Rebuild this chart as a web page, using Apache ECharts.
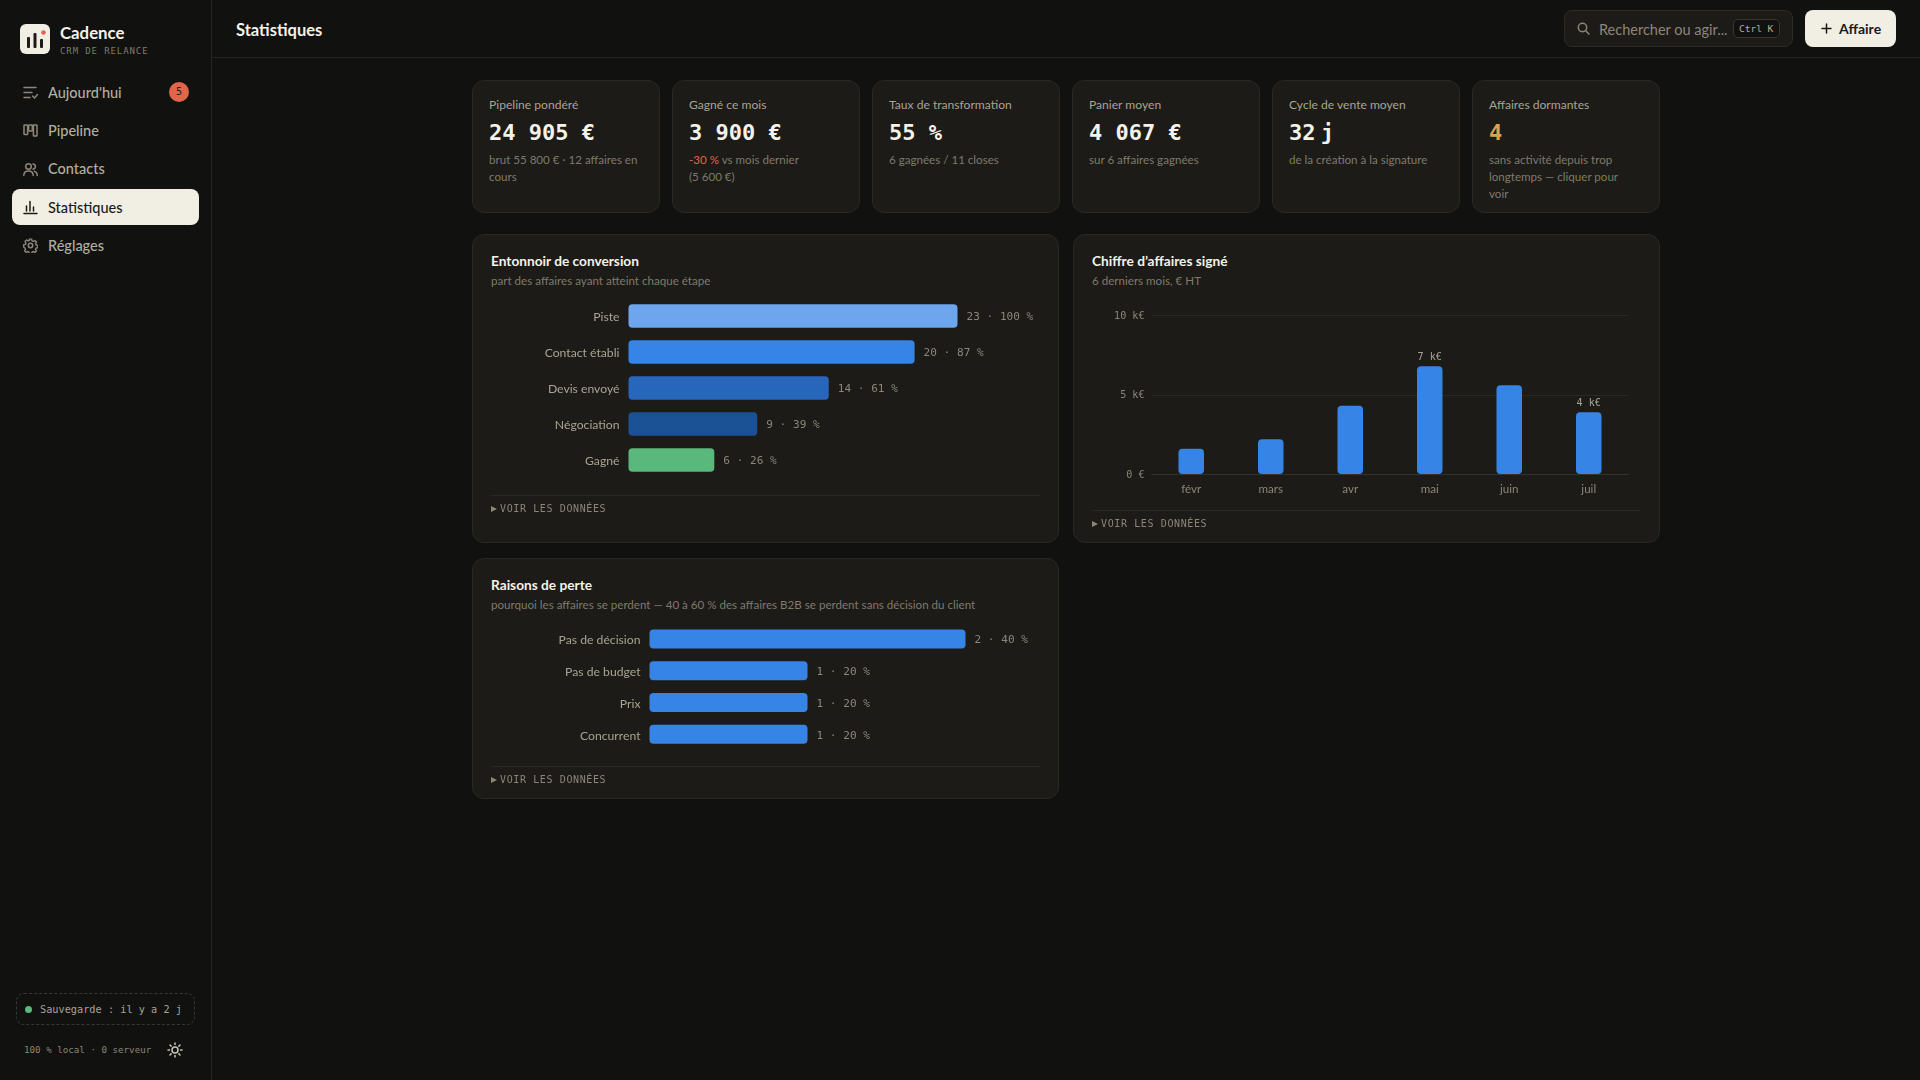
<!DOCTYPE html>
<html lang="fr">
<head>
<meta charset="utf-8">
<title>Cadence - Statistiques</title>
<script src="https://cdn.jsdelivr.net/npm/echarts@6/dist/echarts.min.js"></script>
<style>
  html, body { margin: 0; padding: 0; width: 1920px; height: 1080px; overflow: hidden; background: #111110; font-family: Lato, sans-serif; color: #f1eee4; }
  .t { position: absolute; white-space: nowrap; line-height: 1; transform: translateY(-50%); }
  .mono { font-family: "DejaVu Sans Mono", monospace; }
  .side-line { position: absolute; left: 211px; top: 0; width: 1px; height: 1080px; background: #26241e; }
  .head-line { position: absolute; left: 211px; top: 57px; width: 1709px; height: 1px; background: #26241e; }
  .pill { position: absolute; left: 12px; top: 189px; width: 187px; height: 36px; border-radius: 8px; background: #f1eee4; }
  .nav { left: 48px; font-size: 14.5px; font-weight: 500; color: #b3ae9f; }
  .icon { position: absolute; fill: none; stroke: #8b8678; stroke-width: 1.5; stroke-linecap: round; stroke-linejoin: round; }
  .card { position: absolute; box-sizing: border-box; background: #1c1b17; border: 1px solid #2a2822; border-radius: 12px; }
  .kpi { top: 80px; width: 188px; height: 133px; }
  .kpi .label { position: absolute; left: 16px; top: 15px; font-size: 12.1px; line-height: 18px; color: #a8a394; white-space: nowrap; }
  .kpi .value { position: absolute; left: 16px; top: 38px; font-family: "DejaVu Sans Mono", monospace; font-weight: 700; font-size: 22px; line-height: 28px; color: #f5f2e9; white-space: nowrap; }
  .kpi .sub { position: absolute; left: 16px; top: 70px; width: 155px; font-size: 11.6px; line-height: 17px; color: #7f7a6c; }
  .panel-title { left: 18px; font-size: 13.7px; font-weight: 700; color: #f5f2e9; }
  .panel-sub { left: 18px; font-size: 11.6px; color: #7f7a6c; }
  .rule { position: absolute; left: 18px; height: 1px; width: 549px; background: #2a2822; }
  .toggle { left: 27px; font-family: "DejaVu Sans Mono", monospace; font-size: 10px; letter-spacing: 0.62px; color: #8b8678; }
  .tri { position: absolute; left: 18px; width: 0; height: 0; border-left: 6px solid #8b8678; border-top: 3.5px solid transparent; border-bottom: 3.5px solid transparent; }
  .chart { position: absolute; left: 0; top: 0; width: 100%; height: 100%; }
</style>
</head>
<body>
<div class="side-line"></div>
<div class="head-line"></div>

<!-- barre laterale -->
<div style="position:absolute;left:20px;top:24px;width:30px;height:30px;border-radius:6px;background:#f1eee4"></div>
<svg style="position:absolute;left:20px;top:24px" width="30" height="30">
  <rect x="7" y="13" width="3" height="11" rx="1" fill="#1c1b17"/>
  <rect x="13.5" y="9" width="3" height="15" rx="1" fill="#1c1b17"/>
  <rect x="20" y="15" width="3" height="9" rx="1" fill="#1c1b17"/>
  <circle cx="23.5" cy="8.5" r="2.3" fill="#e0654a"/>
</svg>
<div class="t" style="left:60px;top:32.5px;font-size:16.8px;font-weight:700;color:#f5f2e9">Cadence</div>
<div class="t mono" style="left:60px;top:51px;font-size:9px;letter-spacing:.9px;color:#7f7a6c">CRM DE RELANCE</div>

<div class="pill"></div>
<div class="t nav" style="top:92.5px">Aujourd'hui</div>
<div class="t nav" style="top:131px">Pipeline</div>
<div class="t nav" style="top:169px">Contacts</div>
<div class="t nav" style="top:207.5px;color:#1c1b17">Statistiques</div>
<div class="t nav" style="top:246px">Réglages</div>
<svg class="icon" style="left:23px;top:85px" width="15" height="15" viewBox="0 0 15 15"><path d="M1 2.5h12M1 7.5h8M1 12.5h6M9.5 11l2 2 3-3.5"/></svg>
<svg class="icon" style="left:23px;top:123px" width="15" height="15" viewBox="0 0 15 15"><rect x="1" y="2" width="3.6" height="9.5" rx=".6"/><rect x="5.7" y="2" width="3.6" height="6" rx=".6"/><rect x="10.4" y="2" width="3.6" height="11" rx=".6"/></svg>
<svg class="icon" style="left:23px;top:162px" width="15" height="15" viewBox="0 0 15 15"><circle cx="5.5" cy="4.5" r="2.8"/><path d="M.8 13.5c0-3 2-4.6 4.7-4.6s4.700 1.600 4.700 4.600M10 2c1.500.2 2.400 1.300 2.400 2.600S11.500 7 10 7.200M11.500 9.200c1.700.5 2.800 2 2.800 4.300"/></svg>
<svg class="icon" style="left:23px;top:200px;stroke:#1c1b17" width="15" height="15" viewBox="0 0 15 15"><path d="M1 13.500h13M3.500 11V6M7 11V1.500M10.500 11V7"/></svg>
<svg class="icon" style="left:23px;top:238px" width="15" height="15" viewBox="0 0 15 15"><circle cx="7.500" cy="7.500" r="2.200"/><path d="M6.300 1h2.400l.4 1.800 1.400.6 1.600-1 1.700 1.700-1 1.600.6 1.400 1.800.4v2.400l-1.800.4-.6 1.400 1 1.600-1.700 1.700-1.600-1-1.400.6-.4 1.800H6.300l-.4-1.800-1.400-.6-1.600 1-1.700-1.700 1-1.600-.6-1.400L.3 9.300V6.900l1.800-.4.6-1.400-1-1.600 1.700-1.700 1.600 1 1.400-.6z" transform="translate(.4 .2) scale(.95)"/></svg>
<div style="position:absolute;left:169px;top:82px;width:20px;height:20px;border-radius:50%;background:#e0654a"></div>
<div class="t mono" style="left:176px;top:92px;font-size:10px;color:#1c1b17">5</div>

<div style="position:absolute;box-sizing:border-box;left:16px;top:993px;width:179px;height:32px;border:1px dashed #3a362c;border-radius:8px"></div>
<div style="position:absolute;left:25px;top:1006px;width:7px;height:7px;border-radius:50%;background:#5ab87c"></div>
<div class="t mono" style="left:40px;top:1009px;font-size:10.25px;color:#a8a394">Sauvegarde : il y a 2 j</div>
<div class="t mono" style="left:24px;top:1050px;font-size:9.200px;color:#8b8678">100 % local · 0 serveur</div>
<svg class="icon" style="left:167px;top:1042px;stroke:#c9c4b5" width="16" height="16" viewBox="0 0 16 16"><circle cx="8" cy="8" r="3"/><path d="M8 1v1.500M8 13.500V15M1 8h1.500M13.500 8H15M3 3l1.100 1.100M11.900 11.900L13 13M3 13l1.100-1.100M11.900 4.100L13 3"/></svg>

<!-- en-tete -->
<div class="t" style="left:236px;top:29.5px;font-size:16.5px;font-weight:700;color:#f5f2e9">Statistiques</div>
<div style="position:absolute;box-sizing:border-box;left:1564px;top:10px;width:229px;height:37px;border:1px solid #2f2c25;border-radius:8px;background:#1c1b17"></div>
<svg class="icon" style="left:1577px;top:22px" width="13" height="13" viewBox="0 0 13 13"><circle cx="5.500" cy="5.500" r="4.200"/><path d="M9 9l3 3"/></svg>
<div class="t" style="left:1599px;top:29.5px;font-size:14.5px;color:#8b8678">Rechercher ou agir...</div>
<div style="position:absolute;box-sizing:border-box;left:1733px;top:19px;width:47px;height:19px;border:1px solid #3a362c;border-radius:5px;background:#111110"></div>
<div class="t mono" style="left:1739px;top:28.500px;font-size:9.500px;color:#b3ae9f">Ctrl K</div>
<div style="position:absolute;left:1805px;top:10px;width:91px;height:37px;border-radius:8px;background:#f1eee4"></div>
<svg class="icon" style="left:1821px;top:23px;stroke:#1c1b17" width="11" height="11" viewBox="0 0 11 11"><path d="M5.500 1v9M1 5.500h9"/></svg>
<div class="t" style="left:1839px;top:29px;font-size:14px;font-weight:700;color:#1c1b17">Affaire</div>

<!-- indicateurs, remplis depuis les tableaux -->
<div id="kpis"></div>

<!-- panneaux -->
<div class="card" style="left:472px;top:234px;width:587px;height:309px">
  <div class="t panel-title" style="top:25.5px">Entonnoir de conversion</div>
  <div class="t panel-sub" style="top:46px">part des affaires ayant atteint chaque étape</div>
  <div id="funnelChart" class="chart"></div>
  <div class="rule" style="top:260px"></div>
  <div class="tri" style="top:270.5px"></div>
  <div class="t toggle" style="top:274px">VOIR LES DONNÉES</div>
</div>
<div class="card" style="left:1073px;top:234px;width:587px;height:309px">
  <div class="t panel-title" style="top:25.5px">Chiffre d’affaires signé</div>
  <div class="t panel-sub" style="top:46px">6 derniers mois, € HT</div>
  <div id="revenueChart" class="chart"></div>
  <div class="rule" style="top:275px"></div>
  <div class="tri" style="top:285.500px"></div>
  <div class="t toggle" style="top:289px">VOIR LES DONNÉES</div>
</div>
<div class="card" style="left:472px;top:558px;width:587px;height:241px">
  <div class="t panel-title" style="top:25.5px">Raisons de perte</div>
  <div class="t panel-sub" style="top:46px">pourquoi les affaires se perdent — 40 à 60 % des affaires B2B se perdent sans décision du client</div>
  <div id="lossChart" class="chart"></div>
  <div class="rule" style="top:207px"></div>
  <div class="tri" style="top:217.500px"></div>
  <div class="t toggle" style="top:221px">VOIR LES DONNÉES</div>
</div>

<script>
const kpiLabels = ['Pipeline pondéré', 'Gagné ce mois', 'Taux de transformation', 'Panier moyen', 'Cycle de vente moyen', 'Affaires dormantes']
const kpiValues = ['24 905 €', '3 900 €', '55 %', '4 067 €', '32 j', '4']
const kpiSubs = [
    'brut 55\u202f800\u00a0€ · 12 affaires en cours',
    '<span style="color:#e0654a">-30 %</span> vs mois dernier (5\u202f600\u00a0€)',
    '6 gagnées / 11 closes',
    'sur 6 affaires gagnées',
    'de la création à la signature',
    'sans activité depuis trop longtemps — cliquer pour<br>voir'
]

const funnelStages = ['Piste', 'Contact établi', 'Devis envoyé', 'Négociation', 'Gagné']
const funnelCounts = [23, 20, 14, 9, 6]
const funnelPercents = [100, 87, 61, 39, 26]
const funnelColors = ['#6ea6ee', '#3685e6', '#2766bb', '#1b5295', '#5ab87c']

const revenueMonths = ['févr', 'mars', 'avr', 'mai', 'juin', 'juil']
const revenueValues = [1600, 2200, 4300, 6800, 5600, 3900]
const revenueBarLabels = ['', '', '', '7 k€', '', '4 k€']
const revenueTicks = { 0: '0 €', 5000: '5 k€', 10000: '10 k€' }

const lossReasons = ['Pas de décision', 'Pas de budget', 'Prix', 'Concurrent']
const lossCounts = [2, 1, 1, 1]
const lossPercents = [40, 20, 20, 20]

const MONO = '"DejaVu Sans Mono", monospace'
const SANS = 'Lato, sans-serif'

// cartes du haut
const kpiBox = document.getElementById('kpis')
kpiLabels.forEach((label, i) => {
    const card = document.createElement('div')
    card.className = 'card kpi'
    card.style.left = (472 + i * 200) + 'px'
    let valueStyle = ''
    if (i === 4) valueStyle = 'word-spacing:-8px'
    if (i === 5) valueStyle = 'color:#d9a54a'
    card.innerHTML = '<div class="label">' + label + '</div>'
        + '<div class="value" style="' + valueStyle + '">' + kpiValues[i] + '</div>'
        + '<div class="sub">' + kpiSubs[i] + '</div>'
    kpiBox.appendChild(card)
})

function hBarOption(cats, counts, percents, colors, maxValue, grid, barWidth) {
    return {
        animation: false,
        grid: grid,
        xAxis: { type: 'value', min: 0, max: maxValue, show: false },
        yAxis: {
            type: 'category',
            inverse: true,
            data: cats,
            axisLine: { show: false },
            axisTick: { show: false },
            axisLabel: {
                margin: 9,
                formatter: v => '{a|' + v + '}',
                rich: { a: { color: '#a8a394', fontSize: 12.2, fontFamily: SANS, padding: [3, 0, 0, 0] } }
            }
        },
        series: [{
            type: 'bar',
            barWidth: barWidth,
            data: counts.map((v, i) => ({ value: v, itemStyle: { color: colors[i % colors.length], borderRadius: 4 } })),
            label: {
                show: true,
                position: 'right',
                distance: 9,
                offset: [0, 1.5],
                color: '#8b8678',
                fontSize: 11.1,
                fontFamily: MONO,
                formatter: p => counts[p.dataIndex] + ' · ' + percents[p.dataIndex] + ' %'
            }
        }]
    }
}

echarts.init(document.getElementById('funnelChart')).setOption(
    hBarOption(funnelStages, funnelCounts, funnelPercents, funnelColors, 23,
        { left: 155.5, top: 63, width: 329, height: 180 }, 23.5))

echarts.init(document.getElementById('lossChart')).setOption(
    hBarOption(lossReasons, lossCounts, lossPercents, ['#3685e6'], 2,
        { left: 176.5, top: 64, width: 316, height: 127 }, 19))

echarts.init(document.getElementById('revenueChart')).setOption({
    animation: false,
    grid: { left: 77.5, top: 80.5, width: 477, height: 158.5 },
    xAxis: {
        type: 'category',
        data: revenueMonths,
        axisLine: { lineStyle: { color: '#35322a' } },
        axisTick: { show: false },
        axisLabel: { margin: 9, color: '#8b8678', fontSize: 11.6, fontFamily: SANS }
    },
    yAxis: {
        type: 'value',
        min: 0,
        max: 10000,
        interval: 5000,
        axisLine: { show: false },
        axisTick: { show: false },
        axisLabel: {
            margin: 7,
            formatter: v => '{a|' + revenueTicks[v] + '}',
            rich: { a: { color: '#8b8678', fontSize: 10.1, fontFamily: MONO, padding: [2, 0, 0, 0] } }
        },
        splitLine: { lineStyle: { color: '#2a2822' } }
    },
    series: [{
        type: 'bar',
        barWidth: 25.5,
        data: revenueValues,
        itemStyle: { color: '#3685e6', borderRadius: 4 },
        label: {
            show: true,
            position: 'top',
            distance: 4,
            color: '#a8a394',
            fontSize: 10.1,
            fontFamily: MONO,
            formatter: p => revenueBarLabels[p.dataIndex]
        }
    }]
})
</script>
</body>
</html>
